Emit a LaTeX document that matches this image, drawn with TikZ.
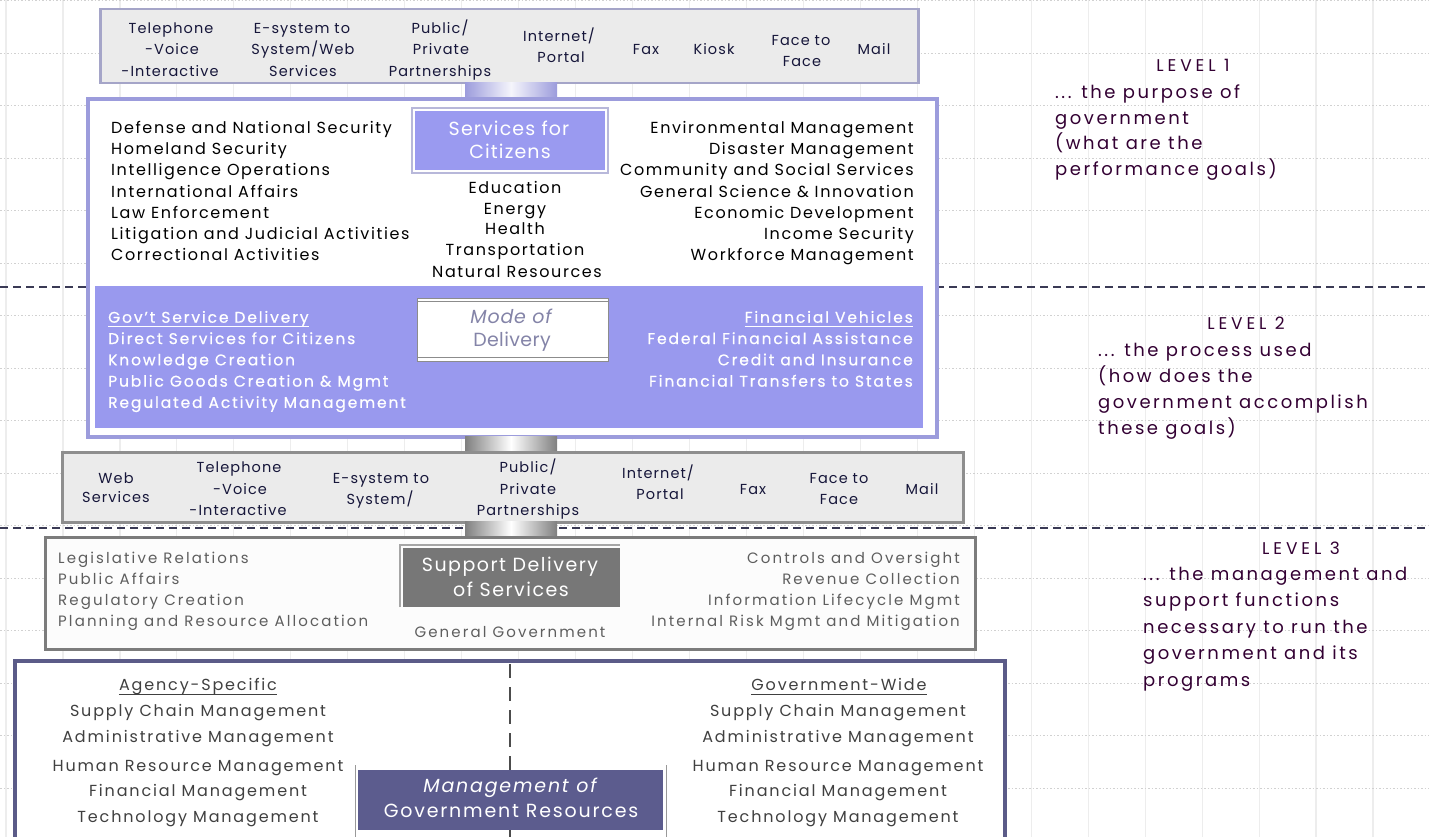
\documentclass[tikz,border=0pt]{standalone}
\usepackage{fontspec}
\setmainfont{Poppins}
\definecolor{lavb}{HTML}{9C9CDC}
\definecolor{purp}{HTML}{9999EE}
\definecolor{purp2}{HTML}{9A9AF0}
\definecolor{chanfill}{HTML}{EBEBEB}
\definecolor{chanbA}{HTML}{A5A5C8}
\definecolor{chanbB}{HTML}{8E8E8E}
\definecolor{greytxt}{HTML}{5E5E5E}
\definecolor{lvltxt}{HTML}{330033}
\definecolor{mgmtb}{HTML}{5B5B88}
\definecolor{mgmtfill}{HTML}{5C5C8E}
\definecolor{supdark}{HTML}{777777}
\definecolor{supb}{HTML}{7C7C7C}
\definecolor{chantxt}{HTML}{16163A}
\definecolor{sepc}{HTML}{3A3A55}
\definecolor{modetxt}{HTML}{8484A8}
\begin{document}
\begin{tikzpicture}[x=1pt,y=-1pt,
  gridv/.style={draw=black!7, line width=1.2pt},
  gridh/.style={draw=black!18, line width=0.8pt, dash pattern=on 1.5pt off 2pt},
  sepline/.style={draw=sepc, line width=2pt, dash pattern=on 8pt off 5pt},
  chan/.style={font=\fontsize{14.5}{15}\selectfont\addfontfeature{LetterSpace=7.5}, text=chantxt, inner sep=0, anchor=mid, yshift=-3pt},
  lone/.style={font=\fontsize{16}{17}\selectfont\addfontfeature{LetterSpace=10}, text=black, inner sep=0, yshift=-3pt},
  ltwo/.style={font=\fontsize{15.5}{16}\selectfont\addfontfeature{LetterSpace=12,FakeBold=0.6}, text=white, inner sep=0, yshift=-3pt},
  lsup/.style={font=\fontsize{15}{16}\selectfont\addfontfeature{LetterSpace=14}, text=greytxt, inner sep=0, yshift=-3pt},
  lmg/.style={font=\fontsize{16}{17}\selectfont\addfontfeature{LetterSpace=11.5}, text=black!75, inner sep=0, anchor=mid, yshift=-3pt},
  lvl/.style={font=\fontsize{18}{19}\selectfont\addfontfeature{LetterSpace=14}, text=lvltxt, inner sep=0, anchor=mid west, yshift=-4pt},
  lvlh/.style={font=\fontsize{17}{18}\selectfont\addfontfeature{LetterSpace=23}, text=lvltxt, inner sep=0, anchor=mid, yshift=-4pt},
  bigw/.style={text=white, inner sep=0, anchor=mid, yshift=-3pt},
]
\useasboundingbox (0,0) rectangle (1429,837);
\fill[white] (0,0) rectangle (1429,837);
% background grid
\foreach \k in {0,...,25} \draw[gridv] ({6+56.96*\k},0) -- ({6+56.96*\k},837);
\foreach \k in {0,...,16} \draw[gridh] (0,{0.5+52.5*\k}) -- (1429,{0.5+52.5*\k});
% level separators
\draw[sepline] (0,287) -- (1429,287);
\draw[sepline] (0,528) -- (1429,528);

% ---------- top channel box ----------
\node[draw=chanbA, fill=chanfill, line width=2.5pt, minimum width=818pt, minimum height=74pt, anchor=north west, inner sep=0] (chA) at (99,8) {};
\shade[left color=lavb, right color=lavb, middle color=white!90!lavb] (465,83) rectangle (557,97);
\node[chan] (a1) at (171,28) {Telephone};
\node[chan] (a2) at (172,49) {-Voice};
\node[chan] (a3) at (170,71) {-Interactive};
\node[chan] (a4) at (302,28) {E-system to};
\node[chan] (a5) at (303,49) {System/Web};
\node[chan] (a6) at (303,71) {Services};
\node[chan] (a7) at (440,28) {Public/};
\node[chan] (a8) at (441,49) {Private};
\node[chan] (a9) at (440,71) {Partnerships};
\node[chan] (a10) at (559,36) {Internet/};
\node[chan] (a11) at (561,57) {Portal};
\node[chan] (a12) at (646,49) {Fax};
\node[chan] (a13) at (714,49) {Kiosk};
\node[chan] (a14) at (801,40) {Face to};
\node[chan] (a15) at (802,61) {Face};
\node[chan] (a16) at (874,49) {Mail};

% ---------- main level 1 / level 2 box ----------
\node[draw=lavb, fill=white, line width=4pt, minimum width=849pt, minimum height=338pt, anchor=north west, inner sep=0] (main) at (86,97) {};
\fill[purp] (95,286) rectangle (923,428);
% services for citizens
\draw[draw=black!12!lavb!60, line width=1.5pt] (412,108) rectangle (608,173);
\node[fill=purp2, minimum width=190pt, minimum height=59pt, anchor=north west, inner sep=0] (svc) at (415,111) {};
\node[bigw, font=\fontsize{19}{20}\selectfont\addfontfeature{LetterSpace=6}] (svc1) at (509,130) {Services for};
\node[bigw, font=\fontsize{19}{20}\selectfont\addfontfeature{LetterSpace=6}] (svc2) at (510,153) {Citizens};
% left list
\foreach \t [count=\i] in {Defense and National Security, Homeland Security, Intelligence Operations, International Affairs, Law Enforcement, Litigation and Judicial Activities, Correctional Activities}
  \node[lone, anchor=mid west] (ll\i) at (111,{128+(\i-1)*21.1}) {\t};
% centre list
\node[lone, anchor=mid] (c1) at (515,188) {Education};
\node[lone, anchor=mid] (c2) at (515,209) {Energy};
\node[lone, anchor=mid] (c3) at (515,229) {Health};
\node[lone, anchor=mid] (c4) at (515,250) {Transportation};
\node[lone, anchor=mid] (c5) at (517,272) {Natural Resources};
% right list
\foreach \t [count=\i] in {Environmental Management, Disaster Management, Community and Social Services, General Science \& Innovation, Economic Development, Income Security, Workforce Management}
  \node[lone, anchor=mid east] (rl\i) at (914,{128+(\i-1)*21.1}) {\t};

% mode of delivery
\node[draw=black!45, fill=white, line width=1.2pt, minimum width=191pt, minimum height=63pt, anchor=north west, inner sep=0] (mode) at (417,298) {};
\draw[black!45, line width=1pt] (417,301.5) -- (608,301.5) (417,357.5) -- (608,357.5);
\node[bigw, font=\fontsize{19}{20}\selectfont\itshape\addfontfeature{LetterSpace=4}, text=modetxt] (m1) at (511,318) {Mode of};
\node[bigw, font=\fontsize{19}{20}\selectfont\addfontfeature{LetterSpace=2}, text=modetxt] (m2) at (512,341) {Delivery};
% level 2 lists
\foreach \t [count=\i] in {Gov't Service Delivery, Direct Services for Citizens, Knowledge Creation, Public Goods Creation \& Mgmt, Regulated Activity Management}
  \node[ltwo, anchor=mid west] (gl\i) at (108,{317+(\i-1)*21.3}) {\t};
\foreach \t [count=\i] in {Financial Vehicles, Federal Financial Assistance, Credit and Insurance, Financial Transfers to States}
  \node[ltwo, anchor=mid east] (gr\i) at (913,{317+(\i-1)*21.3}) {\t};
\draw[white, line width=1.2pt] ([yshift=-4pt]gl1.base west) -- ([yshift=-4pt]gl1.base east);
\draw[white, line width=1.2pt] ([yshift=-4pt]gr1.base west) -- ([yshift=-4pt]gr1.base east);

% ---------- level 2 channel box ----------
\shade[left color=black!50, right color=black!50, middle color=white] (465,436) rectangle (557,451);
\node[draw=chanbB, fill=chanfill, line width=2.5pt, minimum width=901pt, minimum height=70pt, anchor=north west, inner sep=0] (chB) at (61,451) {};
\shade[left color=black!50, right color=black!50, middle color=white] (465,521) rectangle (557,536);
\node[chan] (b1) at (116,478) {Web};
\node[chan] (b2) at (116,497) {Services};
\node[chan] (b3) at (239,467) {Telephone};
\node[chan] (b4) at (240,489) {-Voice};
\node[chan] (b5) at (238,510) {-Interactive};
\node[chan] (b6) at (381,478) {E-system to};
\node[chan] (b7) at (380,499) {System/};
\node[chan] (b8) at (528,467) {Public/};
\node[chan] (b9) at (528,489) {Private};
\node[chan] (b10) at (528,510) {Partnerships};
\node[chan] (b11) at (658,473) {Internet/};
\node[chan] (b12) at (660,494) {Portal};
\node[chan] (b13) at (753,489) {Fax};
\node[chan] (b14) at (839,478) {Face to};
\node[chan] (b15) at (839,499) {Face};
\node[chan] (b16) at (922,489) {Mail};

% ---------- support box ----------
\node[draw=supb, fill=white!99!black, line width=3pt, minimum width=930pt, minimum height=112pt, anchor=north west, inner sep=0] (sup) at (44,536) {};
\draw[black!35, line width=1.5pt] (400,607) -- (400,545) -- (620,545);
\node[fill=supdark, minimum width=217pt, minimum height=59pt, anchor=north west, inner sep=0] (supd) at (403,548) {};
\node[bigw, font=\fontsize{19}{20}\selectfont\addfontfeature{LetterSpace=8}] (s1) at (510,566) {Support Delivery};
\node[bigw, font=\fontsize{19}{20}\selectfont\addfontfeature{LetterSpace=8}] (s2) at (511,591) {of Services};
\node[lsup, anchor=mid] (gg) at (510,632) {General Government};
\foreach \t [count=\i] in {Legislative Relations, Public Affairs, Regulatory Creation, Planning and Resource Allocation}
  \node[lsup, anchor=mid west] (sl\i) at (58,{558+(\i-1)*21}) {\t};
\foreach \t [count=\i] in {Controls and Oversight, Revenue Collection, Information Lifecycle Mgmt, Internal Risk Mgmt and Mitigation}
  \node[lsup, anchor=mid east] (sr\i) at (960,{558+(\i-1)*21}) {\t};

% ---------- management box ----------
\node[draw=mgmtb, fill=white, line width=4pt, minimum width=990pt, minimum height=190pt, anchor=north west, inner sep=0] (mg) at (13,659) {};
\draw[black!70, line width=2.5pt, dash pattern=on 14pt off 9pt] (510,664) -- (510,837);
\draw[black!40, line width=1pt] (355,765) -- (355,837) (666,765) -- (666,837);
\node[fill=mgmtfill, minimum width=305pt, minimum height=60pt, anchor=north west, inner sep=0] (mgd) at (358,770) {};
\node[bigw, font=\fontsize{19}{20}\selectfont\itshape\addfontfeature{LetterSpace=9.5}] (mg1) at (510,787) {Management of};
\node[bigw, font=\fontsize{19}{20}\selectfont\addfontfeature{LetterSpace=9.5}] (mg2) at (511,812) {Government Resources};
\node[lmg] (ag) at (198,685) {Agency-Specific};
\node[lmg] (gw) at (839,685) {Government-Wide};
\draw[black!75, line width=1pt] ([yshift=-4pt]ag.base west) -- ([yshift=-4pt]ag.base east);
\draw[black!75, line width=1pt] ([yshift=-4pt]gw.base west) -- ([yshift=-4pt]gw.base east);
\foreach \t/\y [count=\i] in {Supply Chain Management/711, Administrative Management/737, Human Resource Management/766, Financial Management/791, Technology Management/817}{
  \node[lmg] (ml\i) at (198,\y) {\t};
  \node[lmg] (mr\i) at (838,\y) {\t};
}

% ---------- level descriptions ----------
\node[lvlh] (L1) at (1193,65) {LEVEL 1};
\node[lvl] (L1a) at (1055,92) {... the purpose of};
\node[lvl] (L1b) at (1055,118) {government};
\node[lvl] (L1c) at (1055,143) {(what are the};
\node[lvl] (L1d) at (1055,169) {performance goals)};
\node[lvlh] (L2) at (1246,323) {LEVEL 2};
\node[lvl] (L2a) at (1098,350) {... the process used};
\node[lvl] (L2b) at (1098,376) {(how does the};
\node[lvl] (L2c) at (1098,402) {government accomplish};
\node[lvl] (L2d) at (1098,428) {these goals)};
\node[lvlh] (L3) at (1301,548) {LEVEL 3};
\node[lvl] (L3a) at (1143,574) {... the management and};
\node[lvl] (L3b) at (1143,600) {support functions};
\node[lvl] (L3c) at (1143,627) {necessary to run the};
\node[lvl] (L3d) at (1143,653) {government and its};
\node[lvl] (L3e) at (1143,680) {programs};
\end{tikzpicture}
\end{document}
